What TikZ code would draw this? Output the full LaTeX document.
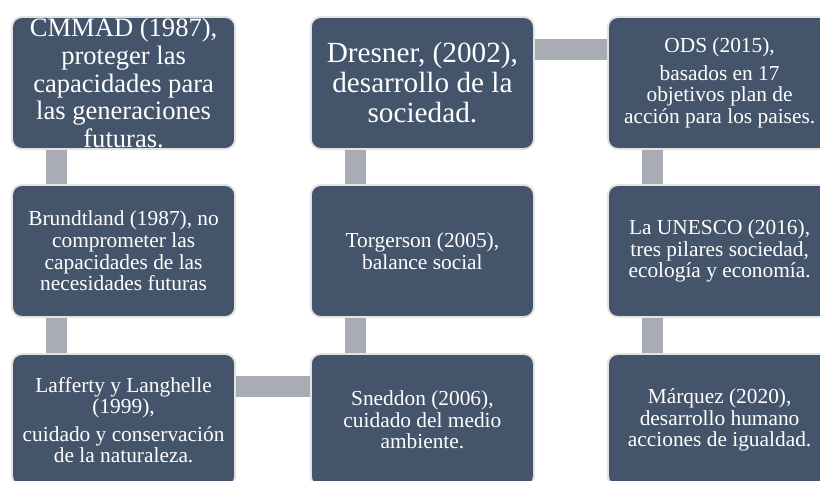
\documentclass[tikz,border=0pt]{standalone}
\usepackage{fontspec}
\setmainfont{Liberation Serif}
\definecolor{cardfill}{HTML}{44546A}
\definecolor{cardline}{HTML}{E3E3E3}
\definecolor{barcol}{HTML}{A9ACB4}
\tikzset{
  card/.style={draw=cardline, line width=1.4pt, fill=cardfill, rounded corners=7pt,
    minimum width=5.58cm, minimum height=3.3cm, text=white, align=center, inner sep=0pt,
    font=\fontsize{15.2}{15.4}\selectfont},
  bigcard/.style={card, font=\fontsize{18.9}{19.6}\selectfont},
  hugecard/.style={card, font=\fontsize{20.8}{21.3}\selectfont},
  bar/.style={draw=barcol, line width=0.525cm},
}
\begin{document}
\begin{tikzpicture}
\clip (0,0) rectangle (20.5,-12);
%first column
\node[bigcard] (cmmad) at (3.09,-2.075){CMMAD (1987),\\ proteger las\\ capacidades para\\ las generaciones\\ futuras.};
\node[card] (brundtland) at (3.09,-6.275){Brundtland (1987), no\\ comprometer las\\ capacidades de las\\ necesidades futuras};
\node[card] (lafferty) at (3.09,-10.5){Lafferty y Langhelle\\ (1999),\\[4pt] cuidado y conservación\\ de la naturaleza.};
%second column
\node[hugecard] (dresner) at (10.56,-2.075){Dresner, (2002),\\ desarrollo de la\\ sociedad.};
\node[card] (torgerson) at (10.56,-6.275){Torgerson (2005),\\ balance social};
\node[card] (sneddon) at (10.56,-10.5){Sneddon (2006),\\ cuidado del medio\\ ambiente.};
%third column
\node[card] (ods) at (17.99,-2.075){ODS (2015),\\[4pt] basados en 17\\ objetivos plan de\\ acción para los paises.};
\node[card] (unesco) at (17.99,-6.275){La UNESCO (2016),\\ tres pilares sociedad,\\ ecología y economía.};
\node[card] (marquez) at (17.99,-10.5){Márquez (2020),\\ desarrollo humano\\ acciones de igualdad.};
%vertical bars
\draw[bar] ([xshift=-1.675cm]cmmad.south) -- ([xshift=-1.675cm]brundtland.north);
\draw[bar] ([xshift=-1.675cm]brundtland.south) -- ([xshift=-1.675cm]lafferty.north);
\draw[bar] ([xshift=-1.675cm]sneddon.north) -- ([xshift=-1.675cm]torgerson.south);
\draw[bar] ([xshift=-1.675cm]torgerson.north) -- ([xshift=-1.675cm]dresner.south);
\draw[bar] ([xshift=-1.675cm]ods.south) -- ([xshift=-1.675cm]unesco.north);
\draw[bar] ([xshift=-1.675cm]unesco.south) -- ([xshift=-1.675cm]marquez.north);
%horizontal bars
\draw[bar] ([yshift=-0.825cm]lafferty.north east) -- ([yshift=-0.825cm]sneddon.north west);
\draw[bar] ([yshift=-0.825cm]dresner.north east) -- ([yshift=-0.825cm]ods.north west);
\end{tikzpicture}
\end{document}
